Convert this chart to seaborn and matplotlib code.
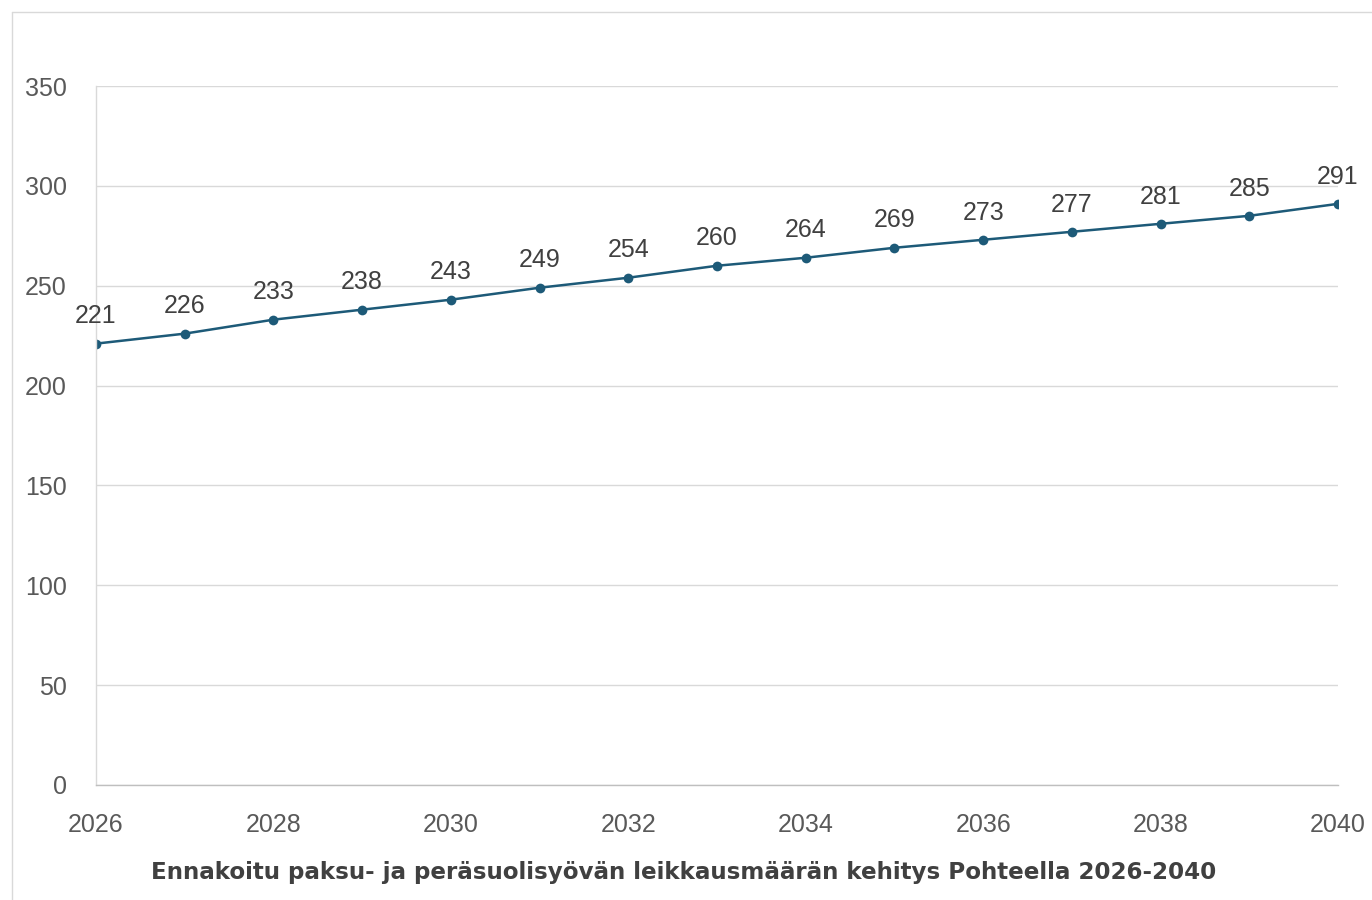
import matplotlib
matplotlib.use("Agg")
import matplotlib.pyplot as plt
import seaborn as sns
import pandas as pd
from matplotlib.lines import Line2D

years = [2026, 2027, 2028, 2029, 2030, 2031, 2032, 2033, 2034, 2035, 2036, 2037, 2038, 2039, 2040]
leikkaukset = [221, 226, 233, 238, 243, 249, 254, 260, 264, 269, 273, 277, 281, 285, 291]
title = "Ennakoitu paksu- ja peräsuolisyövän leikkausmäärän kehitys Pohteella 2026-2040"

df = pd.DataFrame({"vuosi": years, "leikkaukset": leikkaukset})

sns.set_theme(style="whitegrid")
plt.rcParams['font.family'] = ['Liberation Sans', 'DejaVu Sans']

fig = plt.figure(figsize=(13.72, 9.0), dpi=100)
ax = fig.add_axes([96/1372, 1 - 785/900, (1338 - 96)/1372, (785 - 86)/900])

line_col = "#1d5a78"
sns.lineplot(data=df, x="vuosi", y="leikkaukset", ax=ax, color=line_col,
             marker="o", markersize=7, markeredgewidth=0, linewidth=1.8)

for x, y in zip(years, leikkaukset):
    ax.annotate(str(y), (x, y), xytext=(0, 11), textcoords="offset points",
                ha="center", va="bottom", fontsize=18, color="#404040")

ax.set_xlim(2026, 2040)
ax.set_ylim(0, 350)
ax.set_xticks(range(2026, 2041, 2))
ax.set_yticks(range(0, 351, 50))
ax.tick_params(axis="both", length=0, labelsize=18, labelcolor="#595959")
ax.tick_params(axis="y", pad=21)
ax.tick_params(axis="x", pad=20)
ax.grid(axis="x", visible=False)
ax.grid(axis="y", color="#d9d9d9", linewidth=1)
ax.set_xlabel("")
ax.set_ylabel("")
for s in ["top", "right"]:
    ax.spines[s].set_visible(False)
ax.spines["left"].set_color("#d9d9d9")
ax.spines["bottom"].set_color("#bfbfbf")
ax.spines["left"].set_linewidth(1)
ax.spines["bottom"].set_linewidth(1)

# outer chart frame (left and top edges visible)
fig.add_artist(Line2D([12/1372, 12/1372], [0, 1 - 12/900], color="#d9d9d9", linewidth=1))
fig.add_artist(Line2D([12/1372, 1], [1 - 12/900, 1 - 12/900], color="#d9d9d9", linewidth=1))

fig.text(684/1372, 1 - 872/900, title, ha="center", va="center", fontsize=16.6,
         fontweight="bold", color="#404040", family=['DejaVu Sans'])

fig.savefig("out.png", dpi=100)
